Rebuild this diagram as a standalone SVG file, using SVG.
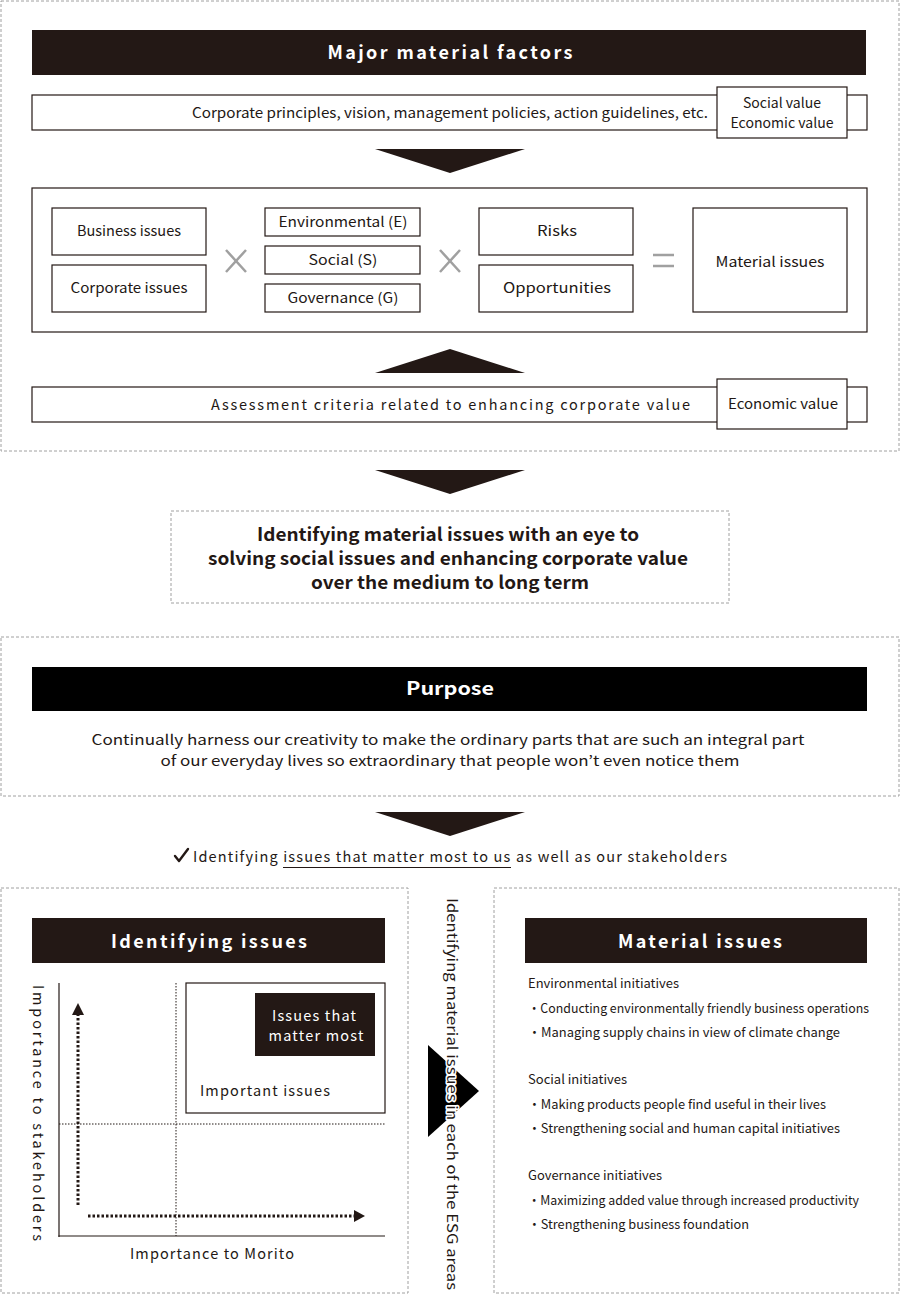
<svg xmlns="http://www.w3.org/2000/svg" width="900" height="1294" viewBox="0 0 900 1294">
<defs>
<style>
.dash{fill:#fff;stroke:#a0a0a0;stroke-width:1;stroke-dasharray:3 2}
.hdr{fill:#231815}
.box{fill:#fff;stroke:#231815;stroke-width:1.2}
.t{font-family:"Noto Sans CJK JP","Noto Sans",sans-serif;font-size:14px;fill:#231815}
.s{font-family:"Noto Sans CJK JP","Noto Sans",sans-serif;font-size:13px;fill:#231815}
.w{font-family:"Noto Sans CJK JP","Noto Sans",sans-serif;font-size:14.5px;fill:#231815}
.tc{text-anchor:middle}
.ht{font-family:"Noto Sans CJK JP","Noto Sans",sans-serif;font-size:18px;font-weight:bold;fill:#fff;text-anchor:middle}
.b{font-family:"Noto Sans CJK JP","Noto Sans",sans-serif;font-size:18px;font-weight:bold;fill:#231815;text-anchor:middle}
.tri{fill:#231815}
.op{fill:none;stroke:#a0a0a0;stroke-width:2.5}
</style>
</defs>
<rect width="900" height="1294" fill="#fff"/>

<!-- Section 1 -->
<g id="section-factors">
<rect class="dash" x="1" y="1" width="898" height="450"/>
<rect class="hdr" x="32" y="30" width="834" height="45"/>
<text class="ht" x="450" y="59" textLength="245" lengthAdjust="spacing">Major material factors</text>
</g>
<g id="principles">
<rect class="box" x="32" y="95" width="835" height="35"/>
<text class="t" x="708" y="118" text-anchor="end" textLength="516" lengthAdjust="spacingAndGlyphs">Corporate principles, vision, management policies, action guidelines, etc.</text>
</g>
<g id="social-economic-value">
<rect class="box" x="717" y="87" width="130" height="51"/>
<text class="t tc" x="782" y="108" textLength="78" lengthAdjust="spacingAndGlyphs">Social value</text>
<text class="t tc" x="782" y="128" textLength="103" lengthAdjust="spacingAndGlyphs">Economic value</text>
</g>
<g id="formula">
<rect class="box" x="32" y="188" width="835" height="144"/>
</g>
<g id="business-issues"><rect class="box" x="52" y="208" width="154" height="47"/><text class="t tc" x="129" y="236" textLength="104" lengthAdjust="spacingAndGlyphs">Business issues</text></g>
<g id="corporate-issues"><rect class="box" x="52" y="265" width="154" height="47"/><text class="t tc" x="129" y="293" textLength="117" lengthAdjust="spacingAndGlyphs">Corporate issues</text></g>
<g id="env"><rect class="box" x="265" y="208" width="155" height="28"/><text class="t tc" x="343" y="227" textLength="129" lengthAdjust="spacingAndGlyphs">Environmental (E)</text></g>
<g id="soc"><rect class="box" x="265" y="246" width="155" height="28"/><text class="t tc" x="343" y="265" textLength="69" lengthAdjust="spacingAndGlyphs">Social (S)</text></g>
<g id="gov"><rect class="box" x="265" y="284" width="155" height="28"/><text class="t tc" x="343" y="303" textLength="111" lengthAdjust="spacingAndGlyphs">Governance (G)</text></g>
<g id="risks"><rect class="box" x="479" y="208" width="154" height="47"/><text class="t tc" x="557" y="236" textLength="40" lengthAdjust="spacingAndGlyphs">Risks</text></g>
<g id="opportunities"><rect class="box" x="479" y="265" width="154" height="47"/><text class="t tc" x="557" y="293" textLength="108" lengthAdjust="spacingAndGlyphs">Opportunities</text></g>
<g id="material-issues-box"><rect class="box" x="693" y="208" width="154" height="104"/><text class="t tc" x="770" y="267" textLength="109" lengthAdjust="spacingAndGlyphs">Material issues</text></g>
<g id="operators">
<path class="op" d="M226 250 L246 272 M246 250 L226 272"/>
<path class="op" d="M440 250 L460 272 M460 250 L440 272"/>
<path class="op" d="M653 255 H674 M653 266 H674"/>
</g>
<g id="assessment">
<rect class="box" x="32" y="387" width="835" height="35"/>
<text class="w" x="211" y="410" textLength="479" lengthAdjust="spacing">Assessment criteria related to enhancing corporate value</text>
</g>
<g id="economic-value">
<rect class="box" x="717" y="379" width="130" height="50"/>
<text class="t tc" x="783" y="409" textLength="110" lengthAdjust="spacingAndGlyphs">Economic value</text>
</g>

<!-- Connectors -->
<g id="connectors">
<polygon class="tri" points="375,149 525,149 450,173"/>
<polygon class="tri" points="375,373 525,373 450,349"/>
<polygon class="tri" points="375,470 525,470 450,494"/>
<polygon class="tri" points="375,812 525,812 450,836"/>
<polygon fill="#000" points="428,1045 479,1091 428,1137"/>
</g>

<g id="identifying-statement">
<rect class="dash" x="171" y="511" width="558" height="92"/>
<text class="b" x="448" y="541" textLength="382" lengthAdjust="spacingAndGlyphs">Identifying material issues with an eye to</text>
<text class="b" x="448" y="565" textLength="480" lengthAdjust="spacingAndGlyphs">solving social issues and enhancing corporate value</text>
<text class="b" x="450" y="589" textLength="278" lengthAdjust="spacingAndGlyphs">over the medium to long term</text>
</g>

<g id="purpose">
<rect class="dash" x="1" y="637" width="898" height="159"/>
<rect x="32" y="667" width="835" height="44" fill="#000"/>
<text class="ht" x="450" y="695" textLength="88" lengthAdjust="spacingAndGlyphs">Purpose</text>
<text class="t tc" x="448" y="745" textLength="713" lengthAdjust="spacingAndGlyphs">Continually harness our creativity to make the ordinary parts that are such an integral part</text>
<text class="t tc" x="450" y="766" textLength="579" lengthAdjust="spacingAndGlyphs">of our everyday lives so extraordinary that people won’t even notice them</text>
</g>

<g id="check-line">
<path d="M175 856 L179 861 L188 849" fill="none" stroke="#231815" stroke-width="2.4" stroke-linejoin="round" stroke-linecap="round"/>
<text class="w" x="193" y="862" textLength="534" lengthAdjust="spacing">Identifying issues that matter most to us as well as our stakeholders</text>
<line x1="283" y1="867.5" x2="511" y2="867.5" stroke="#231815" stroke-width="1"/>
</g>

<!-- Left panel -->
<g id="identifying-issues">
<rect class="dash" x="1" y="888" width="407" height="405"/>
<rect class="hdr" x="32" y="918" width="353" height="45"/>
<text class="ht" x="209" y="948" textLength="196" lengthAdjust="spacing">Identifying issues</text>
<text class="w" transform="translate(33,985) rotate(90)" textLength="256" lengthAdjust="spacing">Importance to stakeholders</text>
<line x1="59" y1="983" x2="59" y2="1237" stroke="#231815" stroke-width="1.2"/>
<line x1="58.4" y1="1236" x2="385" y2="1236" stroke="#231815" stroke-width="1.2"/>
<line x1="176" y1="983" x2="176" y2="1236" stroke="#231815" stroke-width="1" stroke-dasharray="1.5 1.5"/>
<line x1="59" y1="1124" x2="385" y2="1124" stroke="#231815" stroke-width="1" stroke-dasharray="1.5 1.5"/>
<text class="w" x="130" y="1259" textLength="164" lengthAdjust="spacing">Importance to Morito</text>
</g>
<g id="axis-arrows">
<line x1="78" y1="1205" x2="78" y2="1015" stroke="#231815" stroke-width="3" stroke-dasharray="2.5 2"/>
<polygon class="tri" points="78,1003 72,1015 84,1015"/>
<line x1="88" y1="1216" x2="354" y2="1216" stroke="#231815" stroke-width="3" stroke-dasharray="2.5 2"/>
<polygon class="tri" points="365,1216 354,1210 354,1222"/>
</g>
<g id="important-issues">
<rect class="box" x="186" y="983" width="199" height="130"/>
<text class="w" x="200" y="1096" textLength="130" lengthAdjust="spacing">Important issues</text>
</g>
<g id="issues-matter-most">
<rect class="hdr" x="255" y="993" width="120" height="63"/>
<text class="w tc" x="314" y="1021" style="fill:#fff" textLength="84" lengthAdjust="spacing">Issues that</text>
<text class="w tc" x="316" y="1041" style="fill:#fff" textLength="95" lengthAdjust="spacing">matter most</text>
</g>

<g id="esg-label">
<text class="t" transform="translate(447,898) rotate(90)" style="fill:#231815;stroke:#fff;stroke-width:3;paint-order:stroke;stroke-linejoin:round" textLength="392" lengthAdjust="spacingAndGlyphs">Identifying material issues in each of the ESG areas</text>
</g>

<!-- Right panel -->
<g id="material-issues">
<rect class="dash" x="494" y="888" width="405" height="405"/>
<rect class="hdr" x="525" y="918" width="342" height="45"/>
<text class="ht" x="700" y="948" textLength="164" lengthAdjust="spacing">Material issues</text>
<text class="s" x="528" y="988" textLength="151" lengthAdjust="spacingAndGlyphs">Environmental initiatives</text>
<text class="s" x="528" y="1013" textLength="341" lengthAdjust="spacingAndGlyphs">・Conducting environmentally friendly business operations</text>
<text class="s" x="528" y="1037" textLength="312" lengthAdjust="spacingAndGlyphs">・Managing supply chains in view of  climate change</text>
<text class="s" x="528" y="1084" textLength="99" lengthAdjust="spacingAndGlyphs">Social initiatives</text>
<text class="s" x="528" y="1109" textLength="298" lengthAdjust="spacingAndGlyphs">・Making products people find useful in their lives</text>
<text class="s" x="528" y="1133" textLength="312" lengthAdjust="spacingAndGlyphs">・Strengthening social and human capital initiatives</text>
<text class="s" x="528" y="1180" textLength="134" lengthAdjust="spacingAndGlyphs">Governance initiatives</text>
<text class="s" x="528" y="1205" textLength="331" lengthAdjust="spacingAndGlyphs">・Maximizing added value through increased productivity</text>
<text class="s" x="528" y="1229" textLength="221" lengthAdjust="spacingAndGlyphs">・Strengthening business foundation</text>
</g>
</svg>
